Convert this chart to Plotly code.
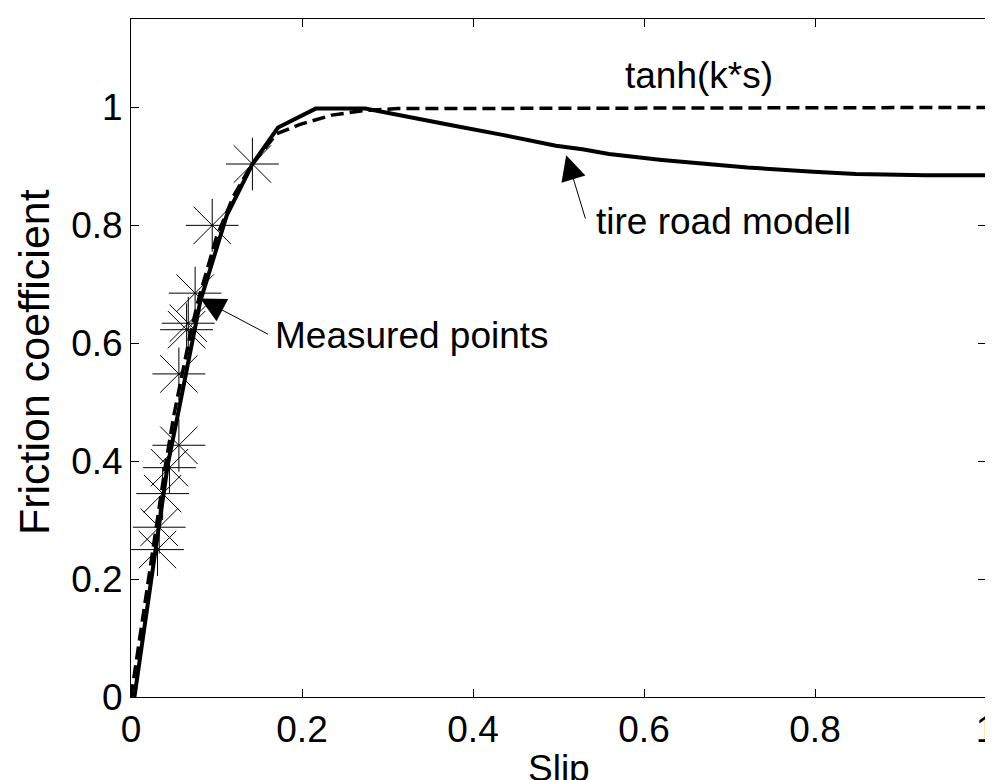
import plotly.graph_objects as go

# measured points (slip, friction)
meas_slip = [0.142, 0.095, 0.075, 0.067, 0.065, 0.056, 0.056, 0.045, 0.037, 0.033, 0.031]
meas_mu = [0.904, 0.800, 0.685, 0.634, 0.623, 0.548, 0.427, 0.389, 0.345, 0.288, 0.250]

# tire road model curve (solid)
model_slip = [0.004, 0.029, 0.043, 0.054, 0.068, 0.081, 0.112, 0.142, 0.172, 0.216, 0.274,
              0.312, 0.345, 0.378, 0.436, 0.497, 0.528, 0.559, 0.621, 0.67, 0.721, 0.798,
              0.848, 0.929, 1.0]
model_mu = [0.0, 0.252, 0.394, 0.473, 0.575, 0.671, 0.817, 0.904, 0.966, 0.998, 0.998,
            0.987, 0.978, 0.969, 0.953, 0.935, 0.929, 0.921, 0.911, 0.904, 0.898, 0.891,
            0.887, 0.885, 0.885]

# tanh(k*s) curve (dashed)
tanh_slip = [0.0, 0.01, 0.02, 0.03, 0.04, 0.05, 0.06, 0.07, 0.08, 0.09, 0.10, 0.12,
             0.14, 0.17, 0.197, 0.235, 0.274, 0.312, 1.0]
tanh_mu = [0.0, 0.10, 0.20, 0.30, 0.39, 0.477, 0.55, 0.62, 0.68, 0.73, 0.78, 0.85,
           0.90, 0.955, 0.971, 0.987, 0.995, 0.998, 1.0]

x_ticks = [0, 0.2, 0.4, 0.6, 0.8, 1]
y_ticks = [0, 0.2, 0.4, 0.6, 0.8, 1]

FONT = "Liberation Sans, Arial, sans-serif"

fig = go.Figure()

fig.add_trace(go.Scatter(x=tanh_slip, y=tanh_mu, mode="lines",
                         line=dict(color="black", width=3.5, dash="13px,6px")))
fig.add_trace(go.Scatter(x=model_slip, y=model_mu, mode="lines",
                         line=dict(color="black", width=4)))
fig.add_trace(go.Scatter(x=meas_slip, y=meas_mu, mode="markers",
                         marker=dict(symbol="asterisk-open", size=44, color="black",
                                     line=dict(color="black", width=1))))

# text labels
labels = [
    ("tanh(k*s)", 0.575, 1.054),
    ("tire road modell", 0.542, 0.807),
    ("Measured points", 0.166, 0.614),
]
for txt, x, y in labels:
    fig.add_annotation(x=x, y=y, text=txt, showarrow=False, xanchor="left",
                       yanchor="middle", font=dict(family=FONT, size=37, color="black"))

# arrows: (head x, head y, tail x, tail y)
arrows = [
    (0.081, 0.676, 0.162, 0.614),
    (0.509, 0.919, 0.532, 0.809),
]
for hx, hy, tx, ty in arrows:
    fig.add_annotation(x=hx, y=hy, ax=tx, ay=ty, axref="x", ayref="y", text="",
                       showarrow=True, arrowhead=2, arrowsize=5, arrowwidth=1,
                       arrowcolor="black")

# axis titles as annotations for exact placement
fig.add_annotation(x=0.5, y=0, xref="paper", yref="paper", text="Slip", showarrow=False,
                   xanchor="center", yanchor="middle", yshift=-71,
                   font=dict(family=FONT, size=37, color="black"))
fig.add_annotation(x=0, y=0.494, xref="paper", yref="paper", text="Friction coefficient",
                   showarrow=False, textangle=-90, xanchor="center", yanchor="middle",
                   xshift=-97, font=dict(family=FONT, size=43, color="black"))

axis_common = dict(showgrid=False, zeroline=False, showline=True, linecolor="black",
                   linewidth=1, mirror="ticks", ticks="inside", ticklen=8,
                   tickcolor="black", tickwidth=1, ticklabeloverflow="allow",
                   tickfont=dict(family=FONT, size=37, color="black"))

fig.update_xaxes(range=[0, 1], tickvals=x_ticks, ticktext=[str(t) for t in x_ticks],
                 **axis_common)
fig.update_yaxes(range=[0, 1.15], tickvals=y_ticks, ticktext=[str(t) for t in y_ticks],
                 **axis_common)

fig.update_layout(width=993, height=780, autosize=False, showlegend=False,
                  plot_bgcolor="white", paper_bgcolor="white",
                  margin=dict(l=123, r=5, t=11, b=91))

fig.write_html("out.html")
